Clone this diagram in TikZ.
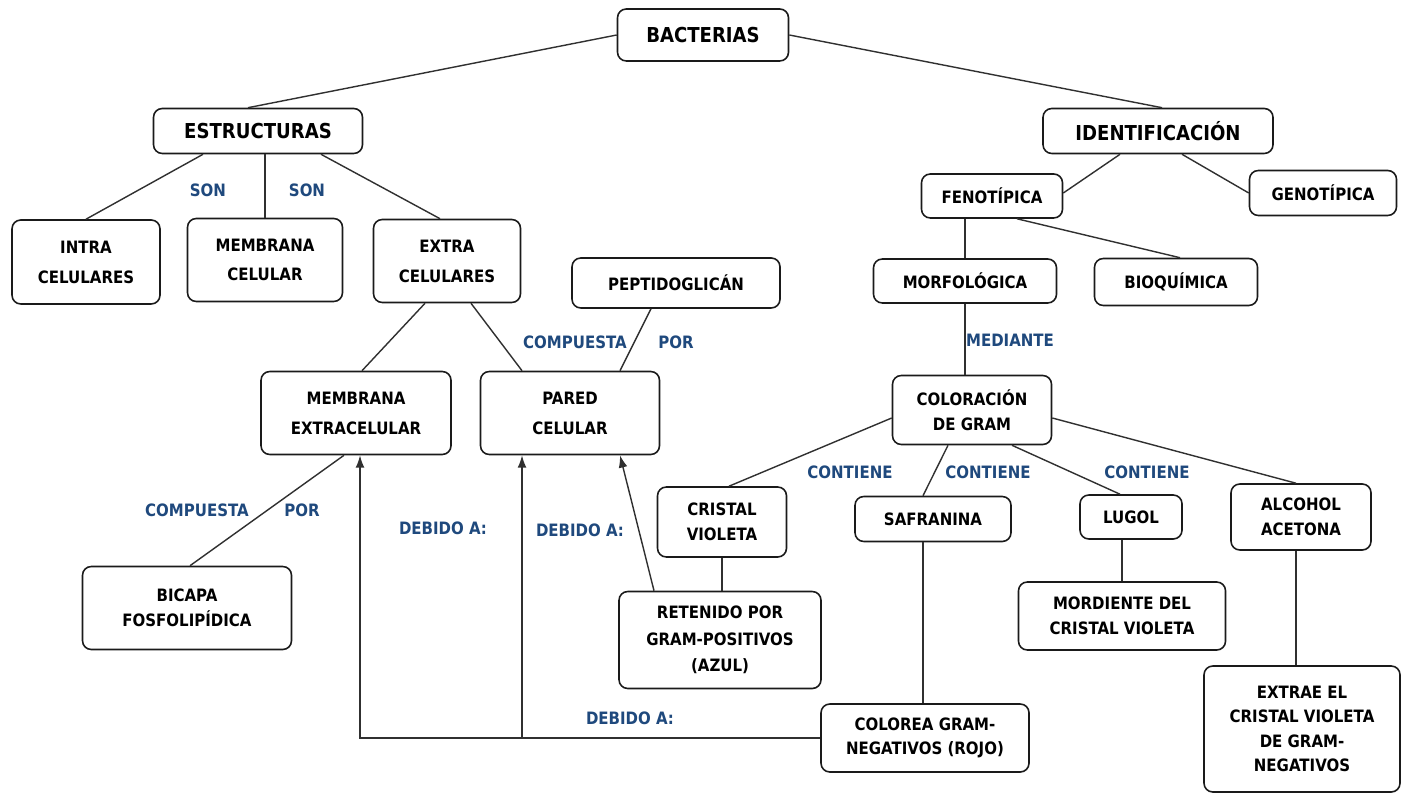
\documentclass[tikz,border=0pt]{standalone}
\usepackage{fontspec}
\setmainfont{DejaVu Sans}[FakeStretch=0.88]
\usepackage{tikz}
\usetikzlibrary{arrows.meta}
\definecolor{Borde}{HTML}{1A1A1A}
\definecolor{Linea}{HTML}{303030}
\definecolor{Etiqueta}{HTML}{1F497D}

\newcommand{\letrachica}{\fontsize{9.7pt}{14pt}\selectfont\bfseries}
\newcommand{\letragrande}{\fontsize{11.7pt}{14pt}\selectfont\bfseries}

\begin{document}
\begin{tikzpicture}[
		x=0.02cm, y=-0.02cm,
		caja/.style={draw=Borde, line width=0.9pt, rounded corners=5pt, fill=white,
			align=center, inner sep=0pt, font=\letrachica},
		grande/.style={caja, font=\letragrande},
		medida/.style 2 args={minimum width=#1*0.02cm, minimum height=#2*0.02cm},
		etiqueta/.style={text=Etiqueta, font=\letrachica, inner sep=0pt},
		enlace/.style={draw=Linea, line width=0.8pt},
		flecha/.style={enlace, -{Latex[length=7pt,width=5pt]}}
	]
	\useasboundingbox[fill=white] (0,0) rectangle (1402,793);

	% nivel superior
	\node[grande, medida={171}{52}] (bacterias) at (703,35) {BACTERIAS};
	\node[grande, medida={209}{45}] (estructuras) at (258,131) {ESTRUCTURAS};
	\node[grande, medida={230}{45}] (identificacion) at (1158,131) {IDENTIFICACIÓN};

	% rama de estructuras
	\node[caja, medida={148}{84}] (intra) at (86,262) {INTRA\\[3pt]CELULARES};
	\node[caja, medida={155}{83}] (membrana) at (265,260) {MEMBRANA\\[2.5pt]CELULAR};
	\node[caja, medida={147}{83}] (extra) at (447,261) {EXTRA\\[3pt]CELULARES};
	\node[caja, medida={208}{50}] (peptido) at (676,283) {PEPTIDOGLICÁN};
	\node[caja, medida={190}{83}] (membext) at (356,413) {MEMBRANA\\[3pt]EXTRACELULAR};
	\node[caja, medida={179}{83}] (pared) at (570,413) {PARED\\[3pt]CELULAR};
	\node[caja, medida={209}{83}] (bicapa) at (187,608) {BICAPA\\FOSFOLIPÍDICA};
	\node[caja, medida={129}{70}] (cristal) at (722,522) {CRISTAL\\VIOLETA};
	\node[caja, medida={202}{97}] (retenido) at (720,640) {RETENIDO POR\\[1pt]GRAM-POSITIVOS\\[1pt](AZUL)};

	% rama de identificacion
	\node[caja, medida={141}{44}] (fenotipica) at (992,196) {FENOTÍPICA};
	\node[caja, medida={147}{45}] (genotipica) at (1323,193) {GENOTÍPICA};
	\node[caja, medida={183}{44}] (morfologica) at (965,281) {MORFOLÓGICA};
	\node[caja, medida={163}{47}] (bioquimica) at (1176,282) {BIOQUÍMICA};
	\node[caja, medida={159}{69}] (coloracion) at (972,410) {COLORACIÓN\\DE GRAM};
	\node[caja, medida={156}{45}] (safranina) at (933,519) {SAFRANINA};
	\node[caja, medida={102}{44}] (lugol) at (1131,517) {LUGOL};
	\node[caja, medida={140}{66}] (alcohol) at (1301,517) {ALCOHOL\\ACETONA};
	\node[caja, medida={207}{68}] (mordiente) at (1122,616) {MORDIENTE DEL\\CRISTAL VIOLETA};
	\node[caja, medida={208}{68}] (colorea) at (925,738) {COLOREA GRAM-\\NEGATIVOS (ROJO)};
	\node[caja, medida={196}{126}] (extrae) at (1302,729) {EXTRAE EL\\CRISTAL VIOLETA\\DE GRAM-\\NEGATIVOS};

	% conectores
	\draw[enlace] (bacterias.west) -- ([xshift=-0.2cm]estructuras.north);
	\draw[enlace] (bacterias.east) -- ([xshift=0.08cm]identificacion.north);
	\draw[enlace] ([xshift=-1.1cm]estructuras.south) -- (intra.north);
	\draw[enlace] (membrana.north) -- (membrana.north |- estructuras.south);
	\draw[enlace] ([xshift=1.26cm]estructuras.south) -- ([xshift=-0.14cm]extra.north);
	\draw[enlace] ([xshift=-0.44cm]extra.south) -- ([xshift=0.12cm]membext.north);
	\draw[enlace] ([xshift=0.48cm]extra.south) -- ([xshift=-0.96cm]pared.north);
	\draw[enlace] ([xshift=-0.5cm]peptido.south) -- ([xshift=1cm]pared.north);
	\draw[enlace] ([xshift=-0.24cm]membext.south) -- ([xshift=0.06cm]bicapa.north);
	\draw[enlace] (cristal.south) -- (cristal.south |- retenido.north);

	\draw[flecha] (colorea.west) -| ([xshift=0.08cm]membext.south);
	\draw[flecha] ([xshift=-0.96cm]pared.south |- colorea.west) -- ([xshift=-0.96cm]pared.south);
	\draw[flecha] ([xshift=-1.32cm]retenido.north) -- ([xshift=1cm]pared.south);

	\draw[enlace] ([xshift=-0.76cm]identificacion.south) -- ([yshift=0.06cm]fenotipica.east);
	\draw[enlace] ([xshift=0.48cm]identificacion.south) -- (genotipica.west);
	\draw[enlace] (morfologica.north) -- (morfologica.north |- fenotipica.south);
	\draw[enlace] ([xshift=0.5cm]fenotipica.south) -- ([xshift=0.08cm]bioquimica.north);
	\draw[enlace] (morfologica.south) -- (morfologica.south |- coloracion.north);
	\draw[enlace] ([yshift=-0.16cm]coloracion.west) -- ([xshift=0.14cm]cristal.north);
	\draw[enlace] ([xshift=-0.48cm]coloracion.south) -- ([xshift=-0.2cm]safranina.north);
	\draw[enlace] ([xshift=0.8cm]coloracion.south) -- ([xshift=-0.22cm]lugol.north);
	\draw[enlace] ([yshift=-0.16cm]coloracion.east) -- ([xshift=-0.1cm]alcohol.north);
	\draw[enlace] ([xshift=-0.2cm]safranina.south) -- ([xshift=-0.2cm]safranina.south |- colorea.north);
	\draw[enlace] (mordiente.north |- lugol.south) -- (mordiente.north);
	\draw[enlace] ([xshift=-0.1cm]alcohol.south) -- ([xshift=-0.1cm]alcohol.south |- extrae.north);

	% etiquetas de los enlaces
	\node[etiqueta] (son1) at (208,190) {SON};
	\node[etiqueta] (son2) at (307,190) {SON};
	\node[etiqueta] (comp1) at (575,342) {COMPUESTA};
	\node[etiqueta] (por1) at (676,342) {POR};
	\node[etiqueta] (comp2) at (197,510) {COMPUESTA};
	\node[etiqueta] (por2) at (302,510) {POR};
	\node[etiqueta] (mediante) at (1010,340) {MEDIANTE};
	\node[etiqueta] (debido1) at (443,528) {DEBIDO A:};
	\node[etiqueta] (debido2) at (580,530) {DEBIDO A:};
	\node[etiqueta] (debido3) at (630,718) {DEBIDO A:};
	\node[etiqueta] (cont1) at (850,472) {CONTIENE};
	\node[etiqueta] (cont2) at (988,472) {CONTIENE};
	\node[etiqueta] (cont3) at (1147,472) {CONTIENE};
\end{tikzpicture}
\end{document}
